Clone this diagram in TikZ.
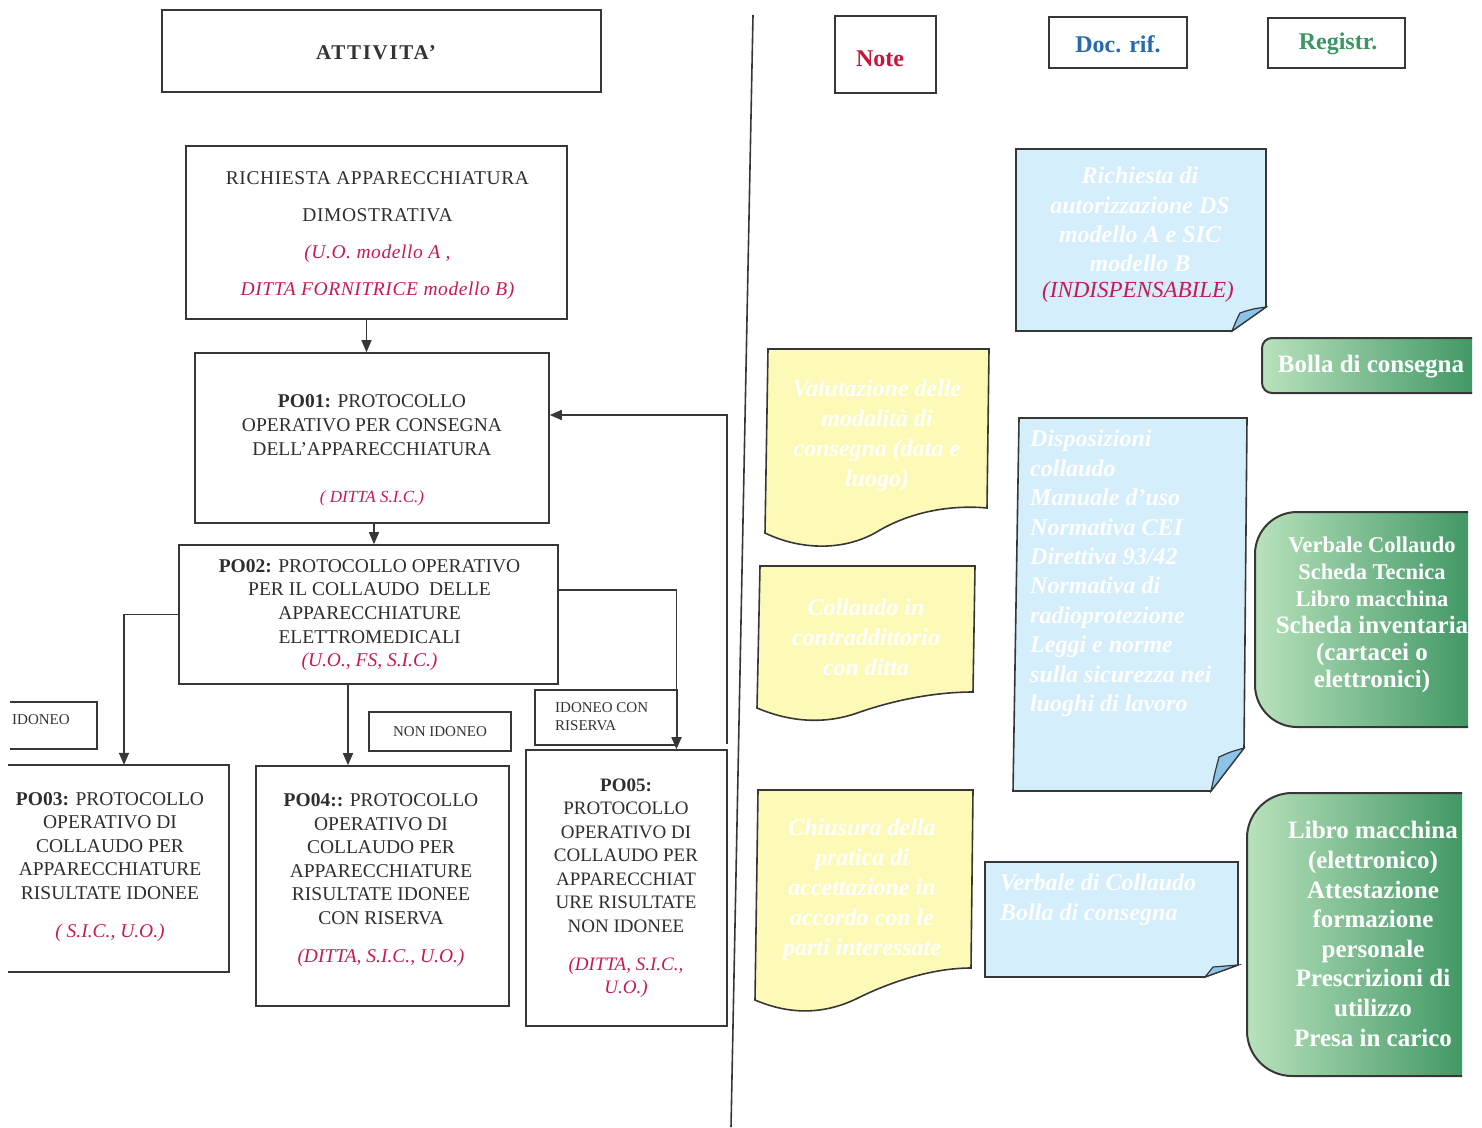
\documentclass[tikz,border=0pt]{standalone}
\usepackage{fontspec}
\setmainfont{Liberation Serif}
\usetikzlibrary{arrows.meta}
\definecolor{crim}{RGB}{200,25,85}
\definecolor{notered}{RGB}{196,22,58}
\definecolor{docblue}{RGB}{40,105,175}
\definecolor{reggreen}{RGB}{60,150,100}
\definecolor{yelfill}{RGB}{252,250,182}
\definecolor{bluefill}{RGB}{212,238,252}
\definecolor{bluefold}{RGB}{140,195,232}
\definecolor{gl}{RGB}{185,226,188}
\definecolor{gd}{RGB}{66,152,102}
\definecolor{edge}{RGB}{55,55,55}
\newcommand\ital[1]{{\itshape\color{crim}#1}}
\newcommand\greenbox[5]{%
  \shade[left color=gl,right color=gd] (#3,#2) -- ({#1+#5},#2) .. controls ({#1+0.45*#5},#2) and (#1,{#2+0.45*#5}) .. (#1,{#2+#5}) -- (#1,{#4-#5}) .. controls (#1,{#4-0.45*#5}) and ({#1+0.45*#5},#4) .. ({#1+#5},#4) -- (#3,#4) -- cycle;
  \draw[draw=edge,line width=2pt] (#3,#2) -- ({#1+#5},#2) .. controls ({#1+0.45*#5},#2) and (#1,{#2+0.45*#5}) .. (#1,{#2+#5}) -- (#1,{#4-#5}) .. controls (#1,{#4-0.45*#5}) and ({#1+0.45*#5},#4) .. ({#1+#5},#4) -- (#3,#4);}
\begin{document}
\begin{tikzpicture}[x=1pt,y=-1pt,
  box/.style={draw=edge,line width=1.6pt,inner sep=0pt},
  lbl/.style={font=\fontsize{15}{18}\selectfont,text=black!80,inner sep=0pt},
  boxtxt/.style={align=center,text=black!82,inner sep=0pt},
  arr/.style={draw=edge,line width=1.6pt,-{Triangle[length=12pt,width=10pt]}},
  ytxt/.style={text=white,font=\bfseries\itshape\fontsize{24}{30}\selectfont,align=center,inner sep=0pt},
  btxt/.style={text=white,font=\bfseries\itshape\fontsize{24}{29.4}\selectfont,inner sep=0pt},
  gtxt/.style={text=white,font=\bfseries\fontsize{25}{29.6}\selectfont,align=center,inner sep=0pt},
  htxt/.style={inner sep=0pt,font=\bfseries\fontsize{24}{28}\selectfont},
  yshape/.style={fill=yelfill,draw=edge,line width=1.6pt},
  bshape/.style={fill=bluefill,draw=edge,line width=1.6pt},
  fshape/.style={fill=bluefold,draw=edge,line width=1.2pt}]
\useasboundingbox (0,0) rectangle (1482,1127);

% headers
\node[box,minimum width=439pt,minimum height=82pt] (hatt) at (381.5,51) {};
\node[htxt,font=\bfseries\fontsize{21}{24}\selectfont\addfontfeature{LetterSpace=8},text=black!80] (hattt) at (376,53) {ATTIVITA'};
\node[box,minimum width=101pt,minimum height=77pt] (hnote) at (885.5,54.5) {};
\node[htxt,text=notered] (hnotet) at (880,59) {Note};
\node[box,minimum width=138pt,minimum height=51pt] (hdoc) at (1118,42.5) {};
\node[htxt,text=docblue] (hdoct) at (1118,44) {Doc. rif.};
\node[box,minimum width=137pt,minimum height=50pt] (hreg) at (1336.5,43) {};
\node[htxt,text=reggreen] (hregt) at (1338,44) {Registr.};

% divider
\draw[draw=edge,line width=1.6pt] (753,15) -- (731,1127);

% left flow boxes
\node[box,minimum width=381pt,minimum height=173pt] (b1) at (376.5,232.5) {};
\node[boxtxt,font=\fontsize{19.5}{37}\selectfont\addfontfeature{LetterSpace=3}] (t1) at (377.5,236) {RICHIESTA APPARECCHIATURA\\DIMOSTRATIVA\\\ital{(U.O. modello A ,}\\\ital{DITTA FORNITRICE modello B)}};

\node[box,minimum width=354pt,minimum height=170pt] (b2) at (372,438) {};
\node[boxtxt,font=\fontsize{19.5}{24}\selectfont] (t2) at (372,450) {\textbf{PO01:} PROTOCOLLO\\OPERATIVO PER CONSEGNA\\DELL’APPARECCHIATURA\\[23pt]\ital{\fontsize{17}{24}\selectfont( DITTA S.I.C.)}};

\node[box,minimum width=379pt,minimum height=139pt] (b3) at (368.5,614.5) {};
\node[boxtxt,font=\fontsize{19.5}{23.7}\selectfont] (t3) at (369.5,615) {\textbf{PO02:} PROTOCOLLO OPERATIVO\\PER IL COLLAUDO\ \ DELLE\\APPARECCHIATURE\\ELETTROMEDICALI\\\ital{(U.O., FS, S.I.C.)}};

\node[minimum width=221pt,minimum height=207pt,inner sep=0pt] (p3) at (118.5,868.5) {};
\draw[draw=edge,line width=1.6pt] (p3.north west) -- (p3.north east) -- (p3.south east) -- (p3.south west);
\node[boxtxt,font=\fontsize{19.5}{23.5}\selectfont] (t4) at (110,867) {\textbf{PO03:} PROTOCOLLO\\OPERATIVO DI\\COLLAUDO PER\\APPARECCHIATURE\\RISULTATE IDONEE\\[14.5pt]\ital{( S.I.C., U.O.)}};

\node[box,minimum width=253pt,minimum height=240pt] (p4) at (382.5,886) {};
\node[boxtxt,font=\fontsize{19.5}{23.5}\selectfont] (t5) at (381,880) {\textbf{PO04::} PROTOCOLLO\\OPERATIVO DI\\COLLAUDO PER\\APPARECCHIATURE\\RISULTATE IDONEE\\CON RISERVA\\[14.5pt]\ital{(DITTA, S.I.C., U.O.)}};

\node[box,minimum width=201pt,minimum height=276pt] (p5) at (626.5,888) {};
\node[boxtxt,font=\fontsize{19}{23.5}\selectfont] (t6) at (626,888) {\textbf{PO05:}\\PROTOCOLLO\\OPERATIVO DI\\COLLAUDO PER\\APPARECCHIAT\\URE RISULTATE\\NON IDONEE\\[14.5pt]\ital{(DITTA, S.I.C.,}\\\ital{U.O.)}};

% outcome labels
\draw[draw=edge,line width=1.6pt] (10,702) -| (97,749) -- (10,749);
\node[lbl,anchor=west] (lid) at (12,720) {IDONEO};
\node[box,lbl,minimum width=142pt,minimum height=39pt] (lnon) at (440,731.5) {NON IDONEO};
\node[box,minimum width=142pt,minimum height=55pt] (lcon) at (606,717.5) {};
\node[lbl,align=left,anchor=west,font=\fontsize{15}{18}\selectfont] (lcont) at (555,717) {IDONEO CON\\RISERVA};

% connectors
\draw[arr] ([xshift=-10pt]b1.south) -- ([xshift=-10pt]b1.south |- b2.north);
\draw[arr] ([xshift=2pt]b2.south) -- ([xshift=2pt]b2.south |- b3.north);
\draw[arr] (b3.west) -| ([xshift=5.5pt]p3.north);
\draw[arr] ([xshift=-20.5pt]b3.south) -- ([xshift=-20.5pt]b3.south |- p4.north);
\draw[arr] ([yshift=24.5pt]b3.east) -| ([xshift=50pt]p5.north);
\draw[arr] ([xshift=-1pt,yshift=5pt]p5.north east) |- ([yshift=23pt]b2.east);

% yellow notes
\path[yshape] (768,349) -- (989,349) -- (987,508) .. controls (955,505) and (915,510) .. (880,530) .. controls (845,552) and (800,550) .. (765,533) -- cycle;
\node[ytxt] (n1) at (877,436) {Valutazione delle\\modalità di\\consegna (data e\\luogo)};
\path[yshape] (760,566) -- (975,566) -- (973,692) .. controls (935,692) and (895,700) .. (860,712) .. controls (825,725) and (790,722) .. (757,708) -- cycle;
\node[ytxt] (n2) at (866,637) {Collaudo in\\contraddittorio\\con ditta};
\path[yshape] (758,790) -- (973,790) -- (971,968) .. controls (935,968) and (895,980) .. (860,997) .. controls (825,1015) and (790,1015) .. (755,1000) -- cycle;
\node[ytxt] (n3) at (862,890) {Chiusura della\\pratica di\\accettazione in\\accordo con le\\parti interessate};

% blue documents
\path[bshape] (1016,149) -- (1266,149) -- (1266,307) -- (1232,331) -- (1016,331) -- cycle;
\path[fshape] (1266,307) .. controls (1252,309) .. (1240,313) .. controls (1236,321) .. (1232,331) -- cycle;
\node[btxt,align=center] (d1) at (1140,219.5) {Richiesta di\\autorizzazione DS\\modello A e SIC\\modello B};
\node[inner sep=0pt,text=crim,font=\itshape\fontsize{23}{27}\selectfont] (d1b) at (1138,292) {(INDISPENSABILE)};

\path[bshape] (1019,418) -- (1247,418) -- (1244,748) -- (1211,791) -- (1013,791) -- cycle;
\path[fshape] (1244,748) .. controls (1230,752) .. (1219,757) .. controls (1215,772) .. (1211,791) -- cycle;
\node[btxt,align=left,anchor=north west] (d2) at (1030,430) {Disposizioni\\collaudo\\Manuale d'uso\\Normativa CEI\\Direttiva 93/42\\Normativa di\\radioprotezione\\Leggi e norme\\sulla sicurezza nei\\luoghi di lavoro};

\path[bshape] (985,862) -- (1238,862) -- (1238,965) -- (1205,977) -- (985,977) -- cycle;
\path[fshape] (1238,965) .. controls (1225,966) .. (1213,967) .. controls (1209,972) .. (1205,977) -- cycle;
\node[btxt,align=left,anchor=north west] (d3) at (1000,874) {Verbale di Collaudo\\Bolla di consegna};

% green registrations
\greenbox{1262}{338}{1472}{393}{10}
\node[gtxt] (g1) at (1371,367) {Bolla di consegna};
\greenbox{1255}{512}{1468}{727}{42}
\node[gtxt,font=\bfseries\fontsize{22.5}{27}\selectfont] (g2) at (1372,615) {Verbale Collaudo\\Scheda Tecnica\\Libro macchina\\{\fontsize{25}{30}\selectfont Scheda inventaria}\\{\fontsize{25}{30}\selectfont (cartacei o}\\{\fontsize{25}{30}\selectfont elettronici)}};
\greenbox{1247}{793}{1462}{1076}{45}
\node[gtxt] (g3) at (1373,934) {Libro macchina\\(elettronico)\\Attestazione\\formazione\\personale\\Prescrizioni di\\utilizzo\\Presa in carico};
\end{tikzpicture}
\end{document}
